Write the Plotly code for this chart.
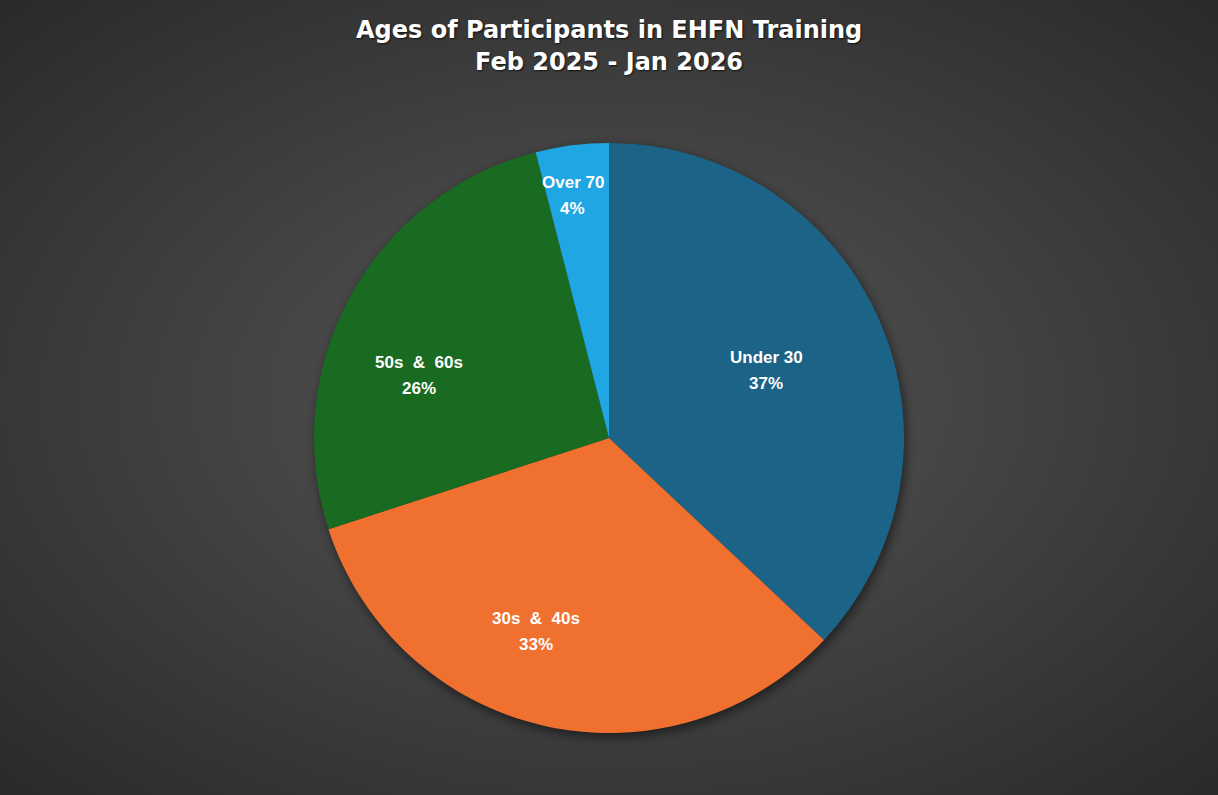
import base64
import numpy as np
import plotly.graph_objects as go

# share of participants per age group (percent)
age_groups = ["Under 30", "30s  &  40s", "50s  &  60s", "Over 70"]
shares = [37, 33, 26, 4]
colors = ["#1c6487", "#f0712f", "#196b22", "#20a6e2"]
# label placement: fraction of the radius and nudge from the slice's middle angle (deg)
label_radius = [0.58, 0.70, 0.68, 0.83]
label_nudge = [0, 8, -10.5, -1.3]

W, H = 1218, 795
cx, cy, R = 609, 438, 295


def svg_uri(svg):
    return "data:image/svg+xml;base64," + base64.b64encode(svg.encode()).decode()


background = svg_uri(
    f'<svg xmlns="http://www.w3.org/2000/svg" width="{W}" height="{H}">'
    '<defs><radialGradient id="g" cx="50%" cy="50%" r="70%">'
    '<stop offset="0" stop-color="#575757"/>'
    '<stop offset="1" stop-color="#2a2a2a"/></radialGradient>'
    '<filter id="b"><feGaussianBlur stdDeviation="5"/></filter></defs>'
    f'<rect width="{W}" height="{H}" fill="url(#g)"/>'
    f'<circle cx="{cx + 2}" cy="{cy + 4}" r="{R + 1}" fill="#000" opacity="0.45" filter="url(#b)"/>'
    '</svg>'
)

fig = go.Figure(go.Pie(
    labels=age_groups,
    values=shares,
    marker={"colors": colors, "line": {"width": 0}},
    sort=False,
    direction="clockwise",
    rotation=0,
    textinfo="none",
    hoverinfo="label+percent",
    showlegend=False,
    domain={
        "x": [(cx - R) / W, (cx + R) / W],
        "y": [(H - cy - R) / H, (H - cy + R) / H],
    },
))

label_font = {"family": "Liberation Sans", "size": 17, "color": "white"}

# labels around the middle angle of each slice
cum = np.cumsum([0] + shares) / sum(shares)
pct = np.round(np.array(shares) / sum(shares) * 100).astype(int)
for i, name in enumerate(age_groups):
    ang = np.pi * (cum[i] + cum[i + 1]) + np.radians(label_nudge[i])
    r = label_radius[i] * R
    x = (cx + r * np.sin(ang)) / W
    y = (H - cy + r * np.cos(ang)) / H
    for txt, shift in [(name, 13), (f"{pct[i]}%", -13)]:
        fig.add_annotation(
            x=x, y=y, xref="paper", yref="paper", yshift=shift,
            xanchor="center", yanchor="middle",
            text=f"<b>{txt}</b>", showarrow=False, font=label_font,
        )

title_font = {"family": "DejaVu Sans", "size": 24, "color": "white",
              "shadow": "1px 1px 2px rgba(0,0,0,0.7)"}
for txt, ty in [("Ages of Participants in EHFN Training", 30),
                ("Feb 2025 - Jan 2026", 62)]:
    fig.add_annotation(
        x=0.5, y=1 - ty / H, xref="paper", yref="paper",
        xanchor="center", yanchor="middle",
        text=f"<b>{txt}</b>", showarrow=False, font=title_font,
    )

fig.update_layout(
    width=W, height=H,
    margin={"l": 0, "r": 0, "t": 0, "b": 0},
    paper_bgcolor="#3c3c3c",
    images=[{
        "source": background, "xref": "paper", "yref": "paper",
        "x": 0, "y": 1, "sizex": 1, "sizey": 1,
        "sizing": "stretch", "layer": "below",
    }],
)

fig.write_html("out.html", config={"displayModeBar": False},
               post_script="document.body.style.margin='0';")
